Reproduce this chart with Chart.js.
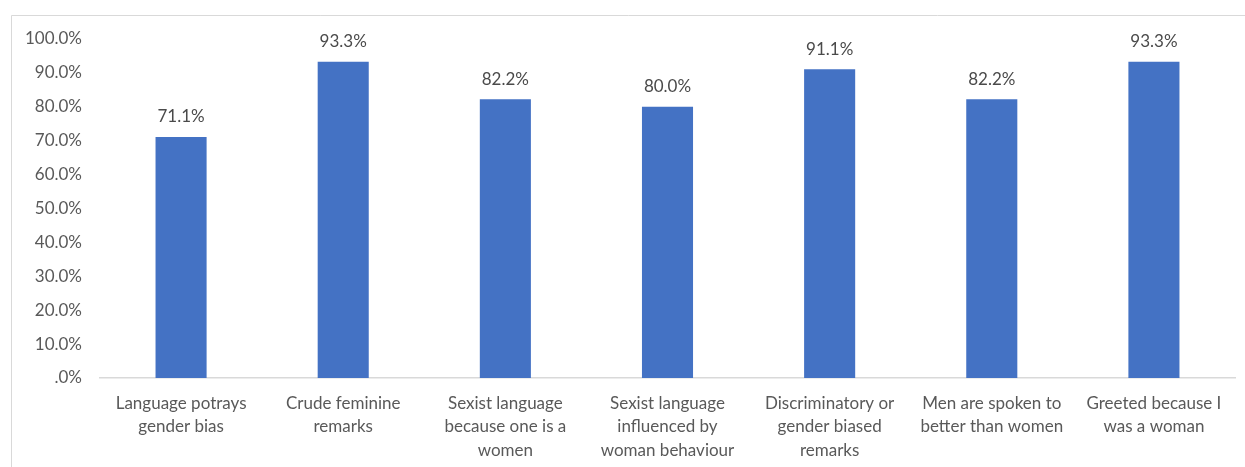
<!DOCTYPE html>
<html>
<head>
<meta charset="utf-8">
<script src="https://cdn.jsdelivr.net/npm/chart.js@4.4.1/dist/chart.umd.min.js"></script>
<style>
  html, body { margin: 0; padding: 0; background: #fff; }
  #wrap { width: 1245px; height: 467px; position: relative; }
</style>
</head>
<body>
<div id="wrap"><canvas id="chart" width="1245" height="467"></canvas></div>
<script>
// survey responses, percent agreeing
const categories = [
    ['Language potrays', 'gender bias'],
    ['Crude feminine', 'remarks'],
    ['Sexist language', 'because one is a', 'women'],
    ['Sexist language', 'influenced by', 'woman behaviour'],
    ['Discriminatory or', 'gender biased', 'remarks'],
    ['Men are spoken to', 'better than women'],
    ['Greeted because I', 'was a woman']
];
const percentValues = [71.1, 93.3, 82.2, 80.0, 91.1, 82.2, 93.3];
const yTicks = [0, 10, 20, 30, 40, 50, 60, 70, 80, 90, 100];

const FONT = 'Lato, "Open Sans", sans-serif';
const TEXT = '#595959';

const fmtPct = (v) => (v === 0 ? '.0%' : v.toFixed(1) + '%');

// thin frame around the whole chart
const framePlugin = {
    id: 'frame',
    beforeDraw(chart) {
        const ctx = chart.ctx;
        ctx.save();
        ctx.fillStyle = '#fff';
        ctx.fillRect(0, 0, chart.width, chart.height);
        ctx.strokeStyle = '#d9d9d9';
        ctx.lineWidth = 1;
        ctx.beginPath();
        ctx.moveTo(11.5, chart.height + 2);
        ctx.lineTo(11.5, 15.5);
        ctx.lineTo(chart.width + 2, 15.5);
        ctx.stroke();
        ctx.restore();
    }
};

// value labels above each bar
const valueLabels = {
    id: 'valueLabels',
    afterDatasetsDraw(chart) {
        const ctx = chart.ctx;
        const meta = chart.getDatasetMeta(0);
        ctx.save();
        ctx.font = '17px ' + FONT;
        ctx.fillStyle = '#4a4a4a';
        ctx.textAlign = 'center';
        ctx.textBaseline = 'middle';
        meta.data.forEach((bar, i) => {
            ctx.fillText(fmtPct(percentValues[i]), bar.x, bar.y - 20);
        });
        ctx.restore();
    }
};

new Chart(document.getElementById('chart').getContext('2d'), {
    type: 'bar',
    data: {
        labels: categories,
        datasets: [{
            data: percentValues,
            backgroundColor: '#4472C4',
            categoryPercentage: 1,
            barPercentage: 0.315
        }]
    },
    options: {
        responsive: false,
        animation: false,
        layout: { padding: { left: 20, right: 10, top: 39, bottom: 0 } },
        plugins: { legend: { display: false }, tooltip: { enabled: false } },
        scales: {
            y: {
                min: 0,
                max: 100,
                afterFit(scale) { scale.width = 80; },
                afterBuildTicks(scale) { scale.ticks = yTicks.map(v => ({ value: v })); },
                grid: { display: false, drawTicks: false },
                border: { display: false },
                ticks: {
                    padding: 18,
                    color: TEXT,
                    font: { family: FONT, size: 17 },
                    callback: (v) => fmtPct(v)
                }
            },
            x: {
                afterFit(scale) { scale.height = 89; },
                grid: { display: false, drawTicks: false },
                border: { display: true, color: '#d9d9d9', width: 1.5 },
                ticks: {
                    padding: 14,
                    color: TEXT,
                    maxRotation: 0,
                    autoSkip: false,
                    font: { family: FONT, size: 17, lineHeight: 1.37 }
                }
            }
        }
    },
    plugins: [framePlugin, valueLabels]
});
</script>
</body>
</html>
